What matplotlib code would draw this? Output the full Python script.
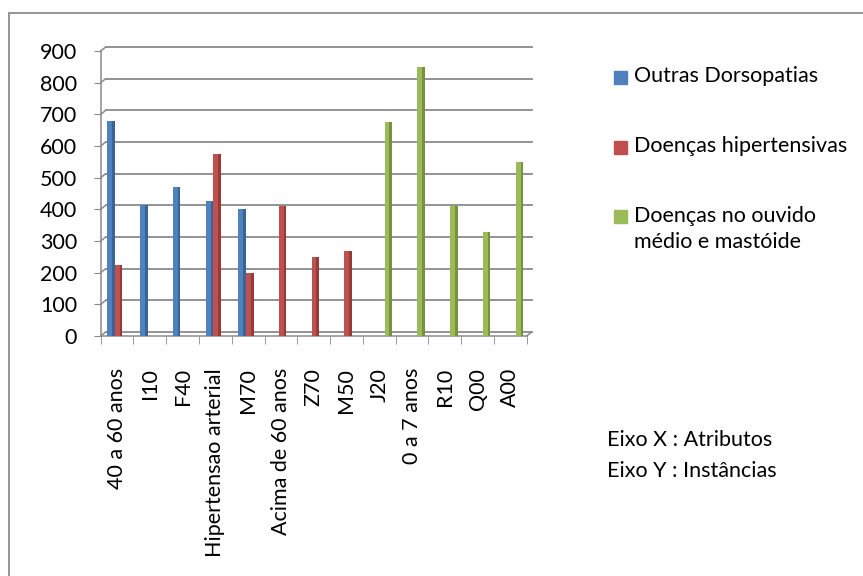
import matplotlib
matplotlib.use('Agg')
import matplotlib.pyplot as plt
import matplotlib.transforms as mtransforms
from matplotlib.patches import Rectangle
import numpy as np

nan = np.nan
categories = ['40 a 60 anos', 'I10', 'F40', 'Hipertensao arterial', 'M70',
              'Acima de 60 anos', 'Z70', 'M50', 'J20', '0 a 7 anos', 'R10', 'Q00', 'A00']
outras = [680, 415, 470, 425, 400, nan, nan, nan, nan, nan, nan, nan, nan]
hipertensivas = [225, nan, nan, 575, 200, 410, 250, 270, nan, nan, nan, nan, nan]
ouvido = [nan, nan, nan, nan, nan, nan, nan, nan, 675, 850, 410, 330, 550]
series_names = ['Outras Dorsopatias', 'Doenças hipertensivas',
                'Doenças no ouvido\nmédio e mastóide']
yticks = [0, 100, 200, 300, 400, 500, 600, 700, 800, 900]

colors = ['#4F81BD', '#C0504D', '#9BBB59']
dark = ['#3A6496', '#953B39', '#76923C']
font = 'Lato'
fs = 15.5
W, H = 863, 576

fig = plt.figure(figsize=(W / 100, H / 100), dpi=100)
# axes box: x 100.7..526.7 px, y 51..336 px
ax = fig.add_axes([100.7 / W, 1 - 336 / H, 426 / W, 285 / H])

x = np.arange(len(categories))
width = 0.23  # the width of the bars
for i, (vals, c, d) in enumerate(zip([outras, hipertensivas, ouvido], colors, dark)):
    pos = x + 0.05 + (i - 1) * width
    ax.bar(pos, vals, width, color=c, zorder=3, linewidth=0)
    # darker right face for the 3-D look
    ax.bar(pos + width * 0.32, vals, width * 0.36, color=d, zorder=3, linewidth=0)

ax.set_xlim(-0.5, len(categories) - 0.5)
ax.set_ylim(0, 900)

# back wall gridlines, shifted like Excel's 3-D walls
dx, dy = 5 / 100, 4 / 100
ytrans = ax.get_yaxis_transform()
shift = ytrans + mtransforms.ScaledTranslation(dx, dy, fig.dpi_scale_trans)
for yv in yticks:
    ax.plot([0, 1], [yv, yv], transform=shift, color='#8a8a8a', lw=1.3,
            zorder=1, clip_on=False)
    ax.annotate('', xy=(0, yv), xycoords=ytrans, xytext=(dx * 72, dy * 72),
                textcoords='offset points',
                arrowprops=dict(arrowstyle='-', color='#8a8a8a', lw=1.1,
                                shrinkA=0, shrinkB=0))
ax.annotate('', xy=(1, 0), xycoords=ytrans, xytext=(dx * 72, dy * 72),
            textcoords='offset points',
            arrowprops=dict(arrowstyle='-', color='#8a8a8a', lw=1.1,
                            shrinkA=0, shrinkB=0))

for s in ['top', 'right']:
    ax.spines[s].set_visible(False)
for s in ['left', 'bottom']:
    ax.spines[s].set_color('#8a8a8a')
    ax.spines[s].set_linewidth(1.1)

ax.set_yticks(yticks)
ax.set_yticklabels([str(v) for v in yticks], fontsize=fs, family=font)
ax.tick_params(axis='y', length=5, color='#8a8a8a', pad=12)

ax.set_xticks(x)
ax.set_xticklabels(categories, rotation=90, fontsize=fs, family=font)
ax.set_xticks(np.arange(len(categories) + 1) - 0.5, minor=True)
ax.tick_params(axis='x', which='major', length=0, pad=23)
ax.tick_params(axis='x', which='minor', length=6, color='#8a8a8a')

# legend drawn by hand to match Excel's spacing
leg_y = [77, 147, 217]
for c, name, yy in zip(colors, series_names, leg_y):
    fig.add_artist(Rectangle((614 / W, 1 - (yy + 6.5) / H), 13 / W, 13 / H,
                             transform=fig.transFigure, color=c))
    fig.text(634 / W, 1 - (yy - 11) / H, name, fontsize=fs, family=font,
             va='top', ha='left', linespacing=1.4)

fig.text(607 / W, 1 - 440 / H, 'Eixo X : Atributos', fontsize=fs, family=font,
         va='center', ha='left')
fig.text(607 / W, 1 - 471 / H, 'Eixo Y : Instâncias', fontsize=fs, family=font,
         va='center', ha='left')

# outer chart border (cut off at right and bottom)
fig.add_artist(Rectangle((9 / W, -0.1), 1.2, 1 - 13 / H + 0.1,
                         transform=fig.transFigure, fill=False,
                         edgecolor='#8c8c8c', lw=1.3))

plt.savefig('out.png', dpi=100)
